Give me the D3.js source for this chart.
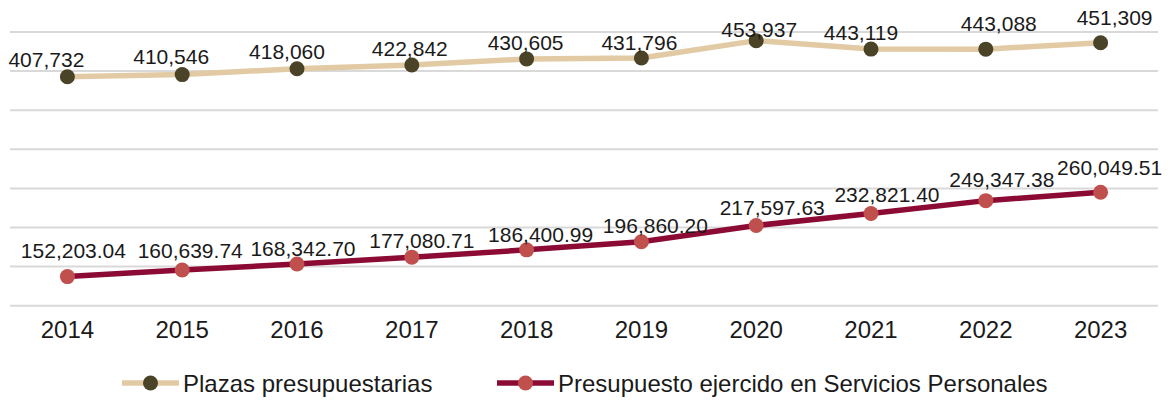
<!DOCTYPE html>
<html>
<head>
<meta charset="utf-8">
<script src="https://cdn.jsdelivr.net/npm/d3@7/dist/d3.min.js"></script>
<style>
  html, body { margin: 0; padding: 0; background: #ffffff; }
  svg { display: block; font-family: "Liberation Sans", Arial, sans-serif; }
</style>
</head>
<body>
<svg id="chart" width="1171" height="400"></svg>
<script>
// ---- data ----
const years = ["2014","2015","2016","2017","2018","2019","2020","2021","2022","2023"];
const plazas = [407732, 410546, 418060, 422842, 430605, 431796, 453937, 443119, 443088, 451309];
const presupuesto = [152203.04, 160639.74, 168342.70, 177080.71, 186400.99, 196860.20, 217597.63, 232821.40, 249347.38, 260049.51];
const gridValues = [115000, 165000, 215000, 265000, 315000, 365000, 415000, 465000];
const seriesNames = ["Plazas presupuestarias", "Presupuesto ejercido en Servicios Personales"];

// ---- label nudges (styling, px) ----
const plazasNudge = [[-21,-10],[-11,-11],[-10,-10],[-2,-9],[-1,-9],[-2,-8],[3,-4],[-10,-9],[13,-18],[14,-18]];
const presNudge = [[6,-19],[8,-12],[6,-8],[10,-9],[14,-8],[14,-9],[16,-10],[16,-12],[16,-14],[9,-17]];

const svg = d3.select("#chart");
const x = d3.scaleBand().domain(years).range([10, 1158]);
const y = d3.scaleLinear().domain([115000, 465000]).range([305.7, 32]);
const cx = d => x(d) + x.bandwidth() / 2;

// gridlines
svg.append("g").selectAll("line").data(gridValues).join("line")
  .attr("x1", 10).attr("x2", 1158)
  .attr("y1", d => y(d)).attr("y2", d => y(d))
  .attr("stroke", "#d9d9d9").attr("stroke-width", 2);

// x axis labels
const xAxis = d3.axisBottom(x).tickSize(0).tickPadding(0);
const gx = svg.append("g").attr("transform", "translate(0,321)").call(xAxis);
gx.select(".domain").remove();
gx.selectAll("text").attr("font-size", "24px").attr("fill", "#1a1a1a")
  .attr("font-family", "Liberation Sans, Arial, sans-serif").attr("dy", "0.71em");

const fmt0 = d3.format(",.0f");
const fmt2 = d3.format(",.2f");

function drawSeries(values, lineColor, dotColor, fmt, nudge) {
  const pts = years.map((yr, i) => ({yr, v: values[i], i}));
  const line = d3.line().x(d => cx(d.yr)).y(d => y(d.v));
  svg.append("path").datum(pts).attr("d", line)
    .attr("fill", "none").attr("stroke", lineColor).attr("stroke-width", 5.5)
    .attr("stroke-linejoin", "round");
  svg.append("g").selectAll("circle").data(pts).join("circle")
    .attr("cx", d => cx(d.yr)).attr("cy", d => y(d.v)).attr("r", 7.5)
    .attr("fill", dotColor);
  svg.append("g").selectAll("text").data(pts).join("text")
    .attr("x", d => cx(d.yr) + nudge[d.i][0])
    .attr("y", d => y(d.v) + nudge[d.i][1])
    .attr("text-anchor", "middle").attr("font-size", "21px").attr("fill", "#1a1a1a")
    .text(d => fmt(d.v));
}

drawSeries(plazas, "#e2cba4", "#4a4328", fmt0, plazasNudge);
drawSeries(presupuesto, "#8c0b34", "#c0504d", fmt2, presNudge);

// legend
const legend = [
  {name: seriesNames[0], line: "#e2cba4", dot: "#4a4328", x0: 122},
  {name: seriesNames[1], line: "#8c0b34", dot: "#c0504d", x0: 497}
];
const lg = svg.append("g").selectAll("g").data(legend).join("g");
lg.append("line").attr("x1", d => d.x0).attr("x2", d => d.x0 + 57)
  .attr("y1", 383).attr("y2", 383).attr("stroke", d => d.line).attr("stroke-width", 5.5);
lg.append("circle").attr("cx", d => d.x0 + 28.5).attr("cy", 383).attr("r", 7.5).attr("fill", d => d.dot);
lg.append("text").attr("x", d => d.x0 + 61).attr("y", 391.5)
  .attr("font-size", "24px").attr("fill", "#1a1a1a").text(d => d.name);
</script>
</body>
</html>
